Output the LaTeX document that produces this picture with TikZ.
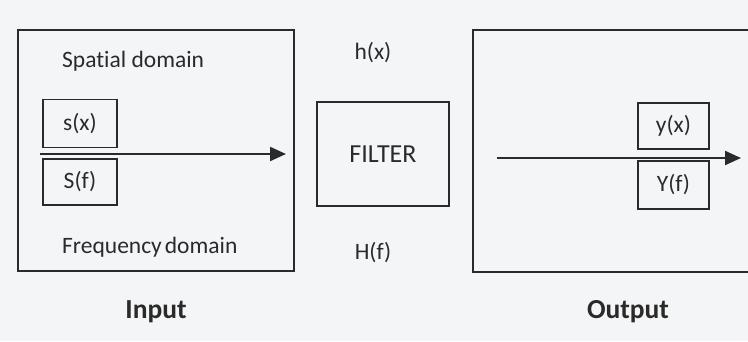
\documentclass[tikz,border=0pt]{standalone}
\usepackage{fontspec}
\setmainfont{Carlito}[Ligatures={NoCommon,NoRare}]
\usetikzlibrary{arrows.meta}
\definecolor{paper}{HTML}{F4F5F6}
\definecolor{ink}{HTML}{2A2A2A}
\tikzset{
  frame/.style={draw=ink, line width=2pt, inner sep=0pt},
  smallbox/.style={draw=ink, line width=1.8pt, minimum width=74pt, minimum height=48pt, inner sep=0pt, font=\fontsize{23.5}{26}\selectfont, text=ink},
  lbl/.style={font=\fontsize{23.5}{26}\selectfont, text=ink, inner sep=0pt},
  caption/.style={font=\fontsize{27.5}{30}\selectfont\bfseries, text=ink, inner sep=0pt},
  flow/.style={draw=ink, line width=2.2pt, -{Triangle[length=16pt,width=14pt]}}
}
\begin{document}
\begin{tikzpicture}[x=1pt,y=-1pt]
  \useasboundingbox (0,0) rectangle (748,341);
  \fill[paper] (0,0) rectangle (748,341);
  \clip (0,0) rectangle (748,341);

  % input side
  \draw[frame] (18,30) rectangle (294,271);
  \node[lbl, anchor=west] (spatial) at (62,61) {Spatial domain};
  \node[lbl, anchor=west] (freq) at (62,247) {Frequency\kern3pt domain};
  \node[smallbox] (sx) at (80,123.5) {s(x)};
  \node[smallbox, minimum height=46pt] (Sf) at (80,182) {S(f)};
  \coordinate (inA) at (40,154);
  \coordinate (inB) at (286,154);
  \draw[flow] (inA) -- (inB);
  \node[caption] (input) at (156,312) {Input};

  % filter
  \node[draw=ink, line width=2pt, minimum width=132pt, minimum height=104pt, inner sep=0pt,
        font=\fontsize{26}{30}\selectfont, text=ink] (filter) at (383,154) {FILTER};
  \node[lbl] (hx) at (373,53) {h(x)};
  \node[lbl] (Hf) at (373,253) {H(f)};

  % output side
  \draw[frame] (473,30) rectangle (760,272);
  \node[smallbox, minimum width=71pt, minimum height=46pt] (yx) at (673.5,126) {y(x)};
  \node[smallbox, minimum width=71pt, minimum height=48pt] (Yf) at (673.5,185) {Y(f)};
  \coordinate (outA) at (497,158);
  \coordinate (outB) at (741,158);
  \draw[flow] (outA) -- (outB);
  \node[caption] (output) at (628,312) {Output};
\end{tikzpicture}
\end{document}
